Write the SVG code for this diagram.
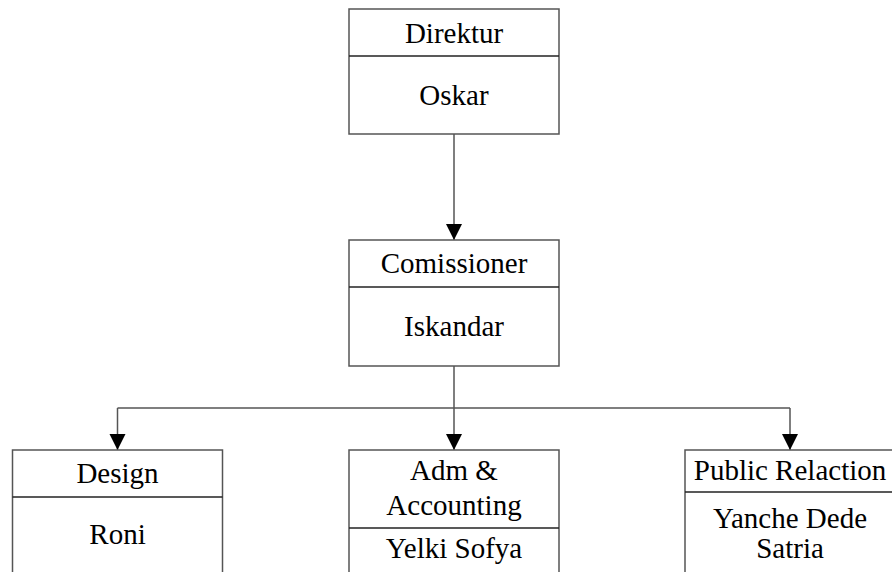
<svg xmlns="http://www.w3.org/2000/svg" width="892" height="572" viewBox="0 0 892 572">
<style>
.box{fill:#fff;stroke:#555;stroke-width:1.5}
.div{stroke:#222;stroke-width:1.5}
.t{font-family:"Liberation Serif","Times New Roman",serif;font-size:29px;fill:#000;text-anchor:middle}
.c{stroke:#555;stroke-width:1.5;fill:none}
</style>
<defs>
<marker id="ah" markerWidth="16" markerHeight="16" refX="8" refY="16" viewBox="0 0 16 16" markerUnits="userSpaceOnUse" orient="auto-start-reverse">
<path d="M0,0 L16,0 L8,16 Z" fill="#000" transform="rotate(-90 8 8)"/>
</marker>
<marker id="arr" markerWidth="16" markerHeight="17" refX="16" refY="8" viewBox="0 0 16 16" markerUnits="userSpaceOnUse" orient="auto">
<path d="M0,0 L16,8 L0,16 Z" fill="#000"/>
</marker>
</defs>
<rect width="892" height="572" fill="#fff"/>
<g id="connectors">
<line class="c" x1="454" y1="134" x2="454" y2="240" marker-end="url(#arr)"/>
<line class="c" x1="454" y1="366" x2="454" y2="450" marker-end="url(#arr)"/>
<line class="c" x1="117.5" y1="408" x2="790" y2="408"/>
<line class="c" x1="117.5" y1="408" x2="117.5" y2="450" marker-end="url(#arr)"/>
<line class="c" x1="790" y1="408" x2="790" y2="450" marker-end="url(#arr)"/>
</g>
<g id="direktur">
<rect class="box" x="349" y="9" width="210" height="125"/>
<line class="div" x1="349" y1="56" x2="559" y2="56"/>
<text class="t" x="454" y="43">Direktur</text>
<text class="t" x="454" y="105">Oskar</text>
</g>
<g id="comissioner">
<rect class="box" x="349" y="240" width="210" height="126"/>
<line class="div" x1="349" y1="287" x2="559" y2="287"/>
<text class="t" x="454" y="273">Comissioner</text>
<text class="t" x="454" y="336">Iskandar</text>
</g>
<g id="design">
<rect class="box" x="12.5" y="450" width="210" height="140"/>
<line class="div" x1="12.5" y1="497" x2="222.5" y2="497"/>
<text class="t" x="117.5" y="483">Design</text>
<text class="t" x="117.5" y="544">Roni</text>
</g>
<g id="adm">
<rect class="box" x="349" y="450" width="210" height="140"/>
<line class="div" x1="349" y1="528" x2="559" y2="528"/>
<text class="t" x="454" y="480">Adm &amp;</text>
<text class="t" x="454" y="515">Accounting</text>
<text class="t" x="454" y="558">Yelki Sofya</text>
</g>
<g id="public">
<rect class="box" x="685" y="450" width="210" height="140"/>
<line class="div" x1="685" y1="492" x2="895" y2="492"/>
<text class="t" x="790" y="480">Public Relaction</text>
<text class="t" x="790" y="528">Yanche Dede</text>
<text class="t" x="790" y="558">Satria</text>
</g>
</svg>
